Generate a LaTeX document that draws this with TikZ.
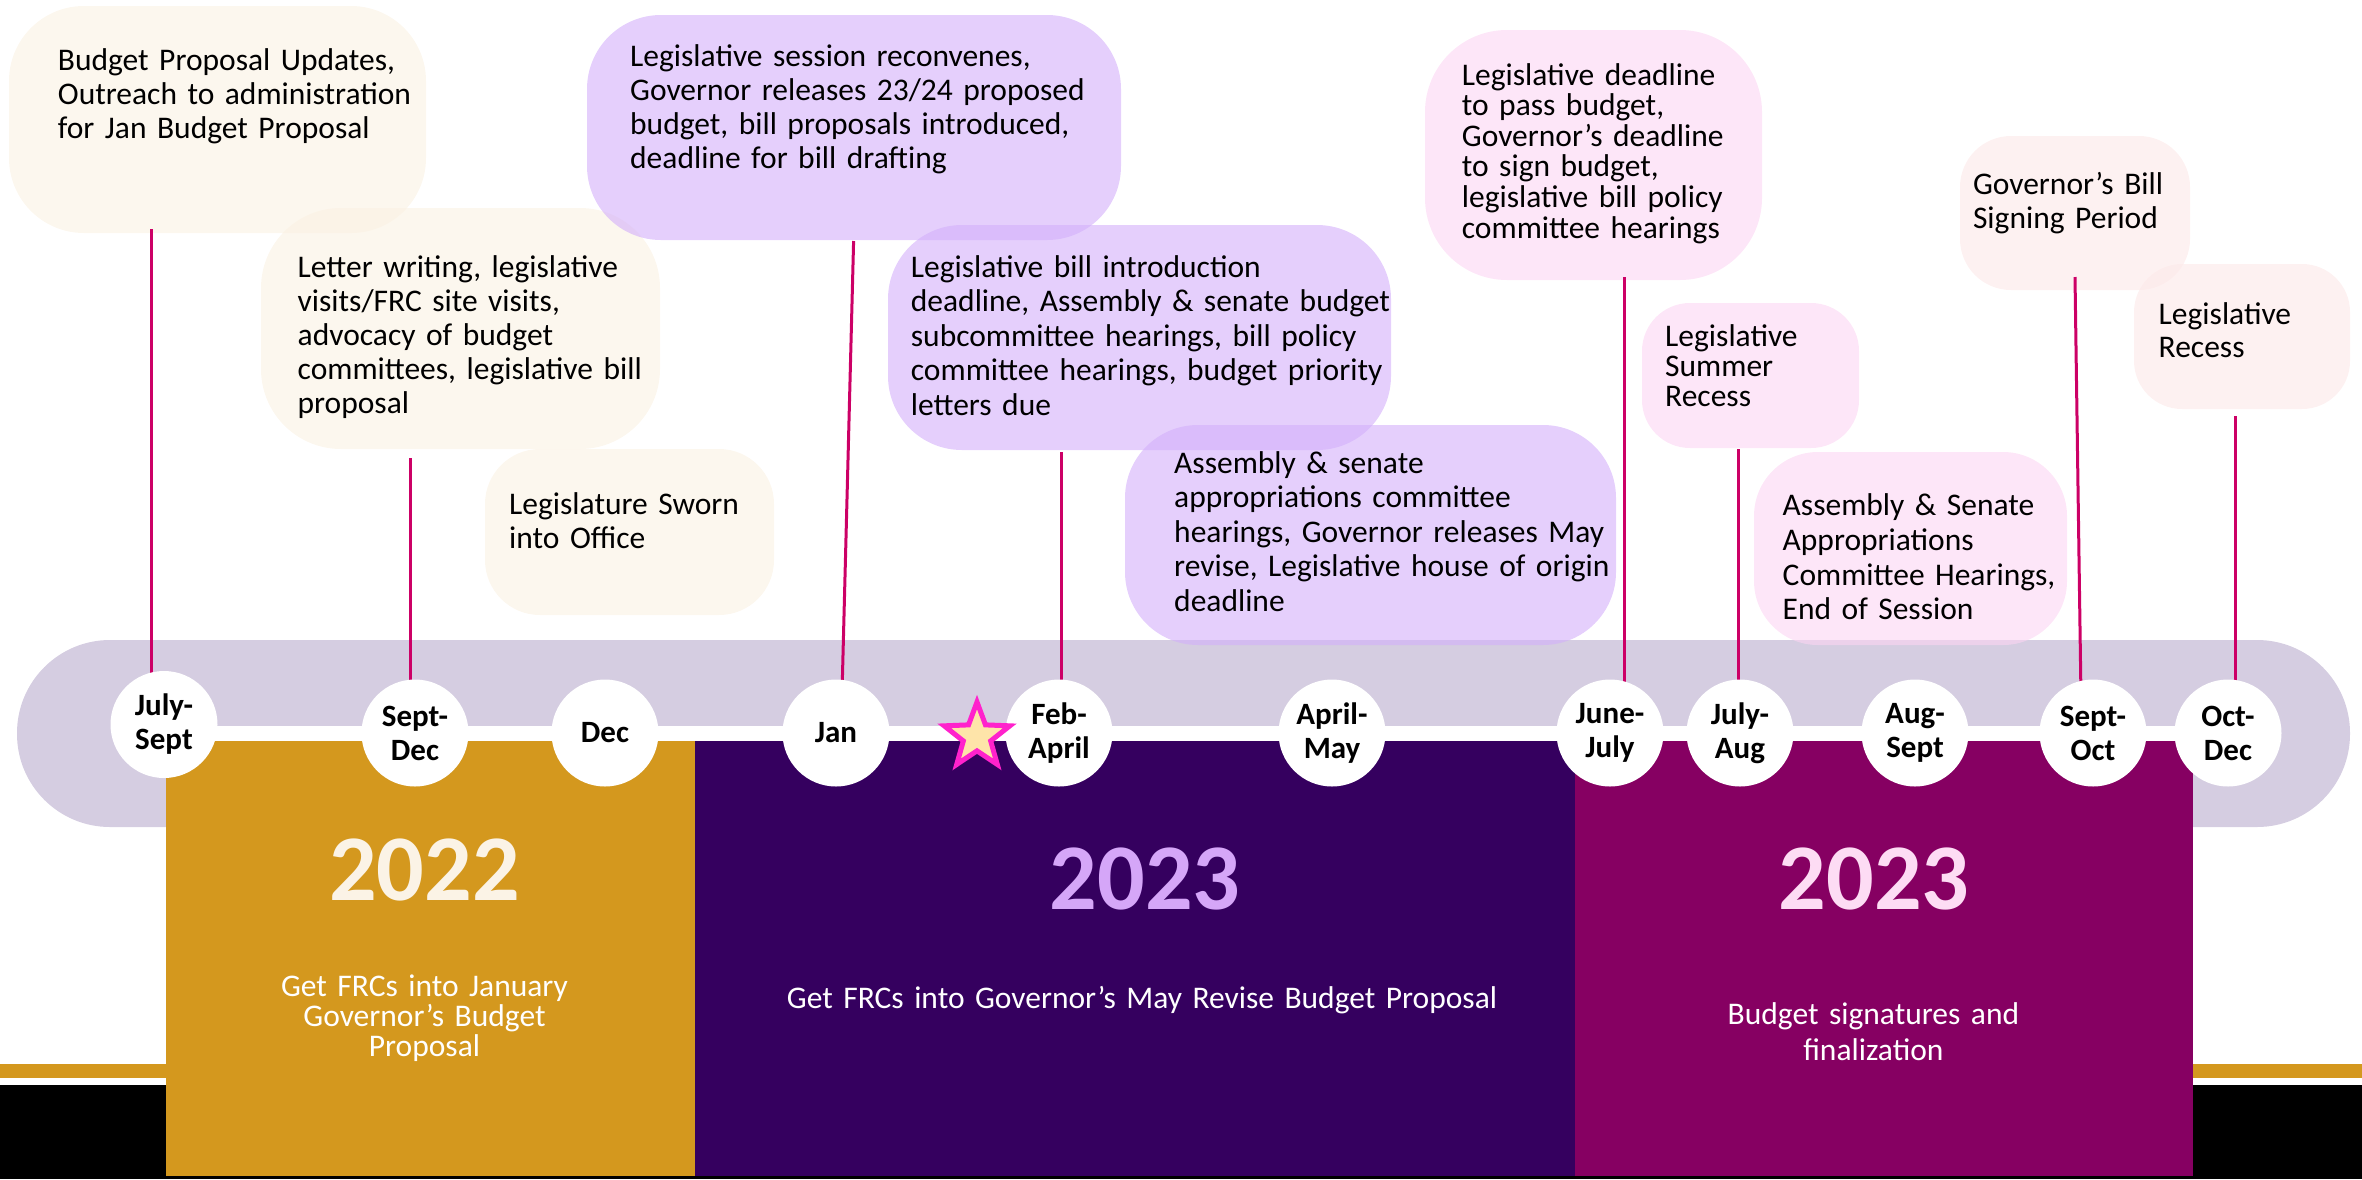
\documentclass[tikz,border=0pt]{standalone}
\usepackage{fontspec}
\setmainfont{Carlito}
\usetikzlibrary{shapes.geometric}
\definecolor{bandc}{HTML}{D5CDE1}
\definecolor{goldc}{HTML}{D4981E}
\definecolor{deeppurple}{HTML}{35005F}
\definecolor{magentac}{HTML}{860062}
\definecolor{yrone}{HTML}{FBF3E6}
\definecolor{yrtwo}{HTML}{D5A6F8}
\definecolor{yrthree}{HTML}{FDDCF4}
\definecolor{connc}{HTML}{CC0066}
\definecolor{creamc}{HTML}{FAF1E2}
\definecolor{lavc}{HTML}{D3AFFA}
\definecolor{pinkc}{HTML}{FCD5F3}
\definecolor{blushc}{HTML}{FCE8E8}
\definecolor{staryellow}{HTML}{FEE4A9}
\definecolor{starpink}{HTML}{FF22CC}
\pgfdeclarelayer{back}
\pgfsetlayers{back,main}
\begin{document}
\begin{tikzpicture}[x=1pt,y=-1pt,
  conn/.style={draw=connc, line width=3pt},
  boxtext/.style={anchor=base west, inner sep=0pt, text width=560pt, align=left, text=black, font=\fontsize{31.5}{34}\selectfont},
  month/.style={circle, fill=white, minimum size=107pt, inner sep=0pt, align=center, text=black, font=\bfseries\fontsize{31}{34}\selectfont},
  yearlabel/.style={anchor=base, inner sep=0pt, font=\bfseries\fontsize{94}{100}\selectfont},
  subtitle/.style={anchor=base, inner sep=0pt, text width=600pt, align=center, text=white, font=\fontsize{31.5}{30.3}\selectfont},
  creambox/.style={fill=creamc, fill opacity=0.6},
  lavbox/.style={fill=lavc, fill opacity=0.6},
  pinkbox/.style={fill=pinkc, fill opacity=0.6},
  blushbox/.style={fill=blushc, fill opacity=0.6}
]
\useasboundingbox (0,0) rectangle (2362,1179);

% month circles
\node[month] (m1) at (164,724.5) {July-\\Sept};
\node[month] (m2) at (415,733) {Sept-\\Dec};
\node[month] (m3) at (605,733) {Dec};
\node[month] (m4) at (836,733) {Jan};
\node[month] (m5) at (1059,733) {Feb-\\April};
\node[month] (m6) at (1332,733) {April-\\May};
\node[month] (m7) at (1610,733) {June-\\July};
\node[month] (m8) at (1740,733) {July-\\Aug};
\node[month] (m9) at (1915,733) {Aug-\\Sept};
\node[month] (m10) at (2093,733) {Sept-\\Oct};
\node[month] (m11) at (2228,733) {Oct-\\Dec};

% star
\node[star, star points=5, star point ratio=2.4, minimum size=69pt, inner sep=0pt,
      draw=starpink, fill=staryellow, line width=5pt] (star) at (977,736.5) {};

\begin{pgfonlayer}{back}
  % band
  \fill[bandc, rounded corners=93pt] (17,640) rectangle (2350,827);
  % bottom bars
  \fill[goldc] (0,1064) rectangle (2362,1078);
  \fill[black] (0,1085) rectangle (2362,1179);
  % year blocks
  \fill[goldc] (166,741) rectangle (695,1176);
  \fill[deeppurple] (695,741) rectangle (1575,1176);
  \fill[magentac] (1575,741) rectangle (2193,1176);
  % white timeline
  \fill[white] (m1.center |- 0,726) rectangle (m11.center |- 0,741);
  % callout boxes
  \fill[creambox, rounded corners=75pt] (9,6) rectangle (426,233);
  \fill[creambox, rounded corners=80pt] (261,208) rectangle (660,449);
  \fill[creambox, rounded corners=55pt] (485,449) rectangle (774,615);
  \fill[lavbox, rounded corners=74pt] (587,15) rectangle (1121,240);
  \fill[lavbox, rounded corners=74pt] (888,225) rectangle (1391,450);
  \fill[lavbox, rounded corners=73pt] (1125,425) rectangle (1616,645);
  \fill[pinkbox, rounded corners=82pt] (1425,30) rectangle (1762,280);
  \fill[pinkbox, rounded corners=48pt] (1642,303) rectangle (1859,448);
  \fill[pinkbox, rounded corners=64pt] (1754,452) rectangle (2067,645);
  \fill[blushbox, rounded corners=51pt] (1960,136) rectangle (2190,290);
  \fill[blushbox, rounded corners=48pt] (2134,264) rectangle (2350,409);
  % connectors
  \coordinate (k1) at (151,229);
  \coordinate (k2) at (410,458);
  \coordinate (k3) at (853.6,241);
  \coordinate (k3b) at (841,733);
  \coordinate (k4) at (1061,452);
  \coordinate (k5) at (1624,277);
  \coordinate (k6) at (1738,449);
  \coordinate (k7) at (2075,277);
  \coordinate (k7b) at (2081.5,733);
  \coordinate (k8) at (2235,416);
  \draw[conn] (k1) -- (k1 |- m1.center);
  \draw[conn] (k2) -- (k2 |- m2.center);
  \draw[conn] (k3) -- (k3b);
  \draw[conn] (k4) -- (k4 |- m5.center);
  \draw[conn] (k5) -- (k5 |- m7.center);
  \draw[conn] (k6) -- (k6 |- m8.center);
  \draw[conn] (k7) -- (k7b);
  \draw[conn] (k8) -- (k8 |- m11.center);
\end{pgfonlayer}

% box texts
\node[boxtext] (t1) at (57.7,70.4) {Budget Proposal Updates,\\Outreach to administration\\for Jan Budget Proposal};
\node[boxtext] (t2) at (297.5,277.6) {Letter writing, legislative\\visits/FRC site visits,\\advocacy of budget\\committees, legislative bill\\proposal};
\node[boxtext] (t3) at (509,514.8) {Legislature Sworn\\into Office};
\node[boxtext] (t4) at (630,66.5) {Legislative session reconvenes,\\Governor releases 23/24 proposed\\budget, bill proposals introduced,\\deadline for bill drafting};
\node[boxtext, font=\fontsize{31.5}{34.6}\selectfont] (t5) at (910.7,277) {Legislative bill introduction\\deadline, Assembly \& senate budget\\subcommittee hearings, bill policy\\committee hearings, budget priority\\letters due};
\node[boxtext, font=\fontsize{31.5}{34.4}\selectfont] (t6) at (1174,473.5) {Assembly \& senate\\appropriations committee\\hearings, Governor releases May\\revise, Legislative house of origin\\deadline};
\node[boxtext, font=\fontsize{31.5}{30.6}\selectfont] (t7) at (1461.7,85) {Legislative deadline\\to pass budget,\\Governor’s deadline\\to sign budget,\\legislative bill policy\\committee hearings};
\node[boxtext, font=\fontsize{31.5}{30}\selectfont] (t8) at (1665,346) {Legislative\\Summer\\Recess};
\node[boxtext, font=\fontsize{31.5}{34.7}\selectfont] (t9) at (1782.5,515.6) {Assembly \& Senate\\Appropriations\\Committee Hearings,\\End of Session};
\node[boxtext, font=\fontsize{31.5}{33.6}\selectfont] (t10) at (1972.8,194.5) {Governor’s Bill\\Signing Period};
\node[boxtext, font=\fontsize{31.5}{33.8}\selectfont] (t11) at (2158.5,324) {Legislative\\Recess};

% years
\node[yearlabel, text=yrone] (y1) at (424.5,900) {2022};
\node[yearlabel, text=yrtwo] (y2) at (1145,909.5) {2023};
\node[yearlabel, text=yrthree] (y3) at (1874,909) {2023};

% subtitles
\node[subtitle] (s1) at (424.5,996) {Get FRCs into January\\Governor’s Budget\\Proposal};
\node[subtitle, text width=800pt] (s2) at (1142,1008.6) {Get FRCs into Governor’s May Revise Budget Proposal};
\node[subtitle, font=\fontsize{31.5}{35.7}\selectfont] (s3) at (1873.4,1024.6) {Budget signatures and\\finalization};
\end{tikzpicture}
\end{document}
